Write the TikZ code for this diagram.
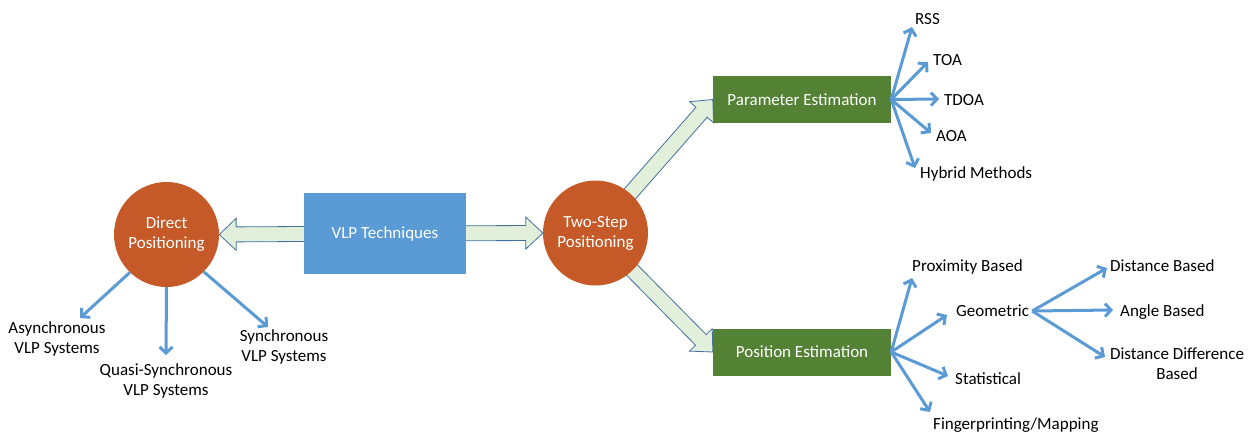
\documentclass[tikz,border=0pt]{standalone}
\usepackage{fontspec}
\setmainfont{Carlito}
\usetikzlibrary{calc,arrows.meta}
\pgfdeclarelayer{background}
\pgfsetlayers{background,main}
\definecolor{rust}{HTML}{C55A28}
\definecolor{skyblue}{HTML}{5B9BD5}
\definecolor{leaf}{HTML}{548235}
\definecolor{mint}{HTML}{E2EFDA}
\definecolor{edgeblue}{HTML}{41719C}
\newcommand{\blockarrow}[3]{%
  \coordinate (#3h) at ($(#2)!17pt!(#1)$);
  \draw[fatarrow] ($(#1)!7.5pt!90:(#2)$) -- ($(#3h)!7.5pt!90:(#2)$)
    -- ($(#3h)!16pt!90:(#2)$) -- (#2) -- ($(#3h)!16pt!-90:(#2)$)
    -- ($(#3h)!7.5pt!-90:(#2)$) -- ($(#1)!7.5pt!-90:(#2)$) -- cycle;}
\tikzset{
  txt/.style={font=\fontsize{17}{20}\selectfont},
  circ/.style={txt, circle, fill=rust, text=white, align=center, minimum size=105pt, inner sep=0pt},
  bluebox/.style={txt, rectangle, fill=skyblue, text=white, minimum width=162pt, minimum height=81pt},
  greenbox/.style={txt, rectangle, fill=leaf, text=white, minimum width=178pt, minimum height=47pt},
  lbl/.style={txt, anchor=west, inner sep=0pt, text height=11pt, text depth=0pt},
  mlbl/.style={txt, align=center, inner sep=0pt},
  fatarrow/.style={fill=mint, draw=edgeblue, line width=0.8pt, line join=miter},
  thin/.style={draw=skyblue, line width=3pt, -{Straight Barb[length=6pt,width=13pt]}},
}
\begin{document}
\begin{tikzpicture}[x=1pt,y=-1pt]
\useasboundingbox (0,0) rectangle (1258,431);

% main nodes
\node[circ] (dp) at (166.5,234.5) {Direct\\Positioning};
\node[bluebox] (vlp) at (385,233.5) {VLP Techniques};
\node[circ] (ts) at (595.5,233) {Two-Step\\Positioning};
\node[greenbox] (pe) at (802,99.5) {Parameter Estimation};
\node[greenbox] (poe) at (802,352) {Position Estimation};

% block arrows behind the main nodes
\begin{pgfonlayer}{background}
  \blockarrow{vlp.center}{dp.east}{a}
  \blockarrow{vlp.center}{ts.west}{b}
  \blockarrow{ts.center}{pe.west}{c}
  \blockarrow{ts.center}{poe.west}{d}
\end{pgfonlayer}

% direct positioning branches
\node[mlbl] (async) at (57,339) {Asynchronous\\VLP Systems};
\node[mlbl] (quasi) at (166,381) {Quasi-Synchronous\\VLP Systems};
\node[mlbl] (sync) at (284,347) {Synchronous\\VLP Systems};
\coordinate (asyncTip) at (80,318);
\coordinate (quasiTip) at (166,355);
\coordinate (syncTip) at (268,327);
\draw[thin] (dp.226) -- (asyncTip);
\draw[thin] (dp.south) -- (quasiTip);
\draw[thin] (dp.-45) -- (syncTip);

% parameter estimation branches
\node[lbl] (rss) at (915,19) {RSS};
\node[lbl] (toa) at (933,60) {TOA};
\node[lbl] (tdoa) at (944,100) {TDOA};
\node[lbl] (aoa) at (936,136) {AOA};
\node[lbl] (hyb) at (920,173) {Hybrid Methods};
\coordinate (rssTip) at (912,27);
\coordinate (toaTip) at (928,62);
\coordinate (tdoaTip) at (939,99);
\coordinate (aoaTip) at (931,133);
\coordinate (hybTip) at (915,168);
\foreach \t in {rssTip,toaTip,tdoaTip,aoaTip,hybTip}
  \draw[thin] (pe.east) -- (\t);

% position estimation branches
\node[lbl] (prox) at (912,266) {Proximity Based};
\node[lbl] (geo) at (956,311) {Geometric};
\node[lbl] (stat) at (955,379) {Statistical};
\node[lbl] (fing) at (933,424) {Fingerprinting/Mapping};
\coordinate (proxTip) at (912,278);
\coordinate (geoTip) at (947,315);
\coordinate (statTip) at (948,376);
\coordinate (fingTip) at (930,412);
\foreach \t in {proxTip,geoTip,statTip,fingTip}
  \draw[thin] (poe.east) -- (\t);

% geometric sub-branches
\node[lbl] (dist) at (1110,266) {Distance Based};
\node[lbl] (ang) at (1120,311) {Angle Based};
\node[mlbl] (ddb) at (1177,364) {Distance Difference\\Based};
\coordinate (distTip) at (1107,268);
\coordinate (angTip) at (1113,310);
\coordinate (ddbTip) at (1105,357);
\foreach \t in {distTip,angTip,ddbTip}
  \draw[thin] ($(geo.east)+(3,0)$) -- (\t);
\end{tikzpicture}
\end{document}
